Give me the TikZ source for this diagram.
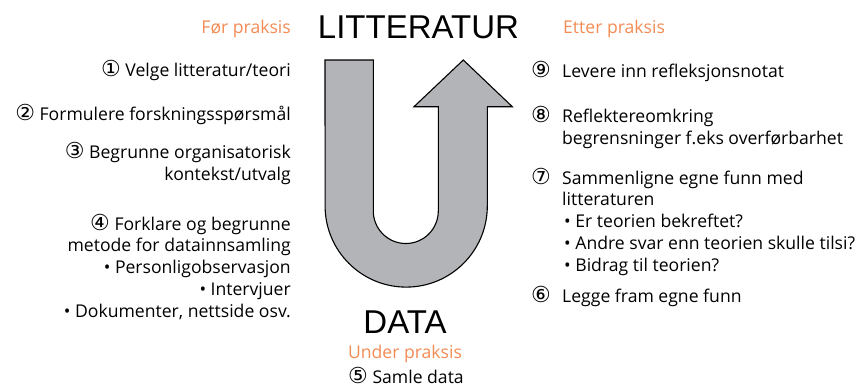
\documentclass[tikz,border=0pt]{standalone}
\usepackage{fontspec}
\setmainfont{Open Sans}
\newfontfamily\titlefont{Liberation Sans}
\newfontfamily\circfont[Scale=1.25]{DejaVu Sans}
\definecolor{praksis}{RGB}{243,139,84}
\definecolor{ugray}{RGB}{178,180,183}
\newcommand{\cnum}[1]{{\circfont #1}}
\newcommand{\rnum}[1]{\makebox[31pt][l]{\circfont #1}}
\newcommand{\rind}{\hspace*{31pt}}
\begin{document}
\begin{tikzpicture}[x=1pt,y=-1pt,
  body/.style={font=\fontsize{17.6}{21.7}\selectfont, inner sep=0pt},
  lefttxt/.style={body, anchor=base east, align=right},
  righttxt/.style={body, anchor=base west, align=left},
  phase/.style={body, text=praksis},
  title/.style={font=\titlefont\fontsize{33}{36}\selectfont, inner sep=0pt, anchor=base},
  uarrow/.style={fill=ugray, draw=black, line width=1.1pt, line join=miter}]
\useasboundingbox (0,0) rectangle (864,389);

\draw[uarrow] (325,60) -- (373.3,60) -- (373.3,211)
  arc[start angle=180,end angle=0,radius=32.5]
  -- (438.3,106.7) -- (414,106.7) -- (463.3,60) -- (512.3,106.7) -- (487.3,106.7)
  -- (487.3,206) arc[start angle=0,end angle=180,radius=81.1] -- cycle;

\node[title] (lit) at (418.5,38.3) {LITTERATUR};
\node[title] (data) at (405,333) {DATA};
\node[phase, anchor=base east] (foer) at (291,33) {Før praksis};
\node[phase, anchor=base west] (etter) at (563,33) {Etter praksis};
\node[phase, anchor=base] (under) at (405,358) {Under praksis};
\node[body, anchor=base] (s5) at (406,383) {\cnum{⑤} Samle data};

% multi-line nodes: anchored at the baseline of their last line
\node[lefttxt] (s1) at (291,76) {\cnum{①} Velge litteratur/teori};
\node[lefttxt] (s2) at (291,120) {\cnum{②} Formulere forskningsspørsmål};
\node[lefttxt] (s3) at (291,180) {\cnum{③} Begrunne organisatorisk\\kontekst/utvalg};
\node[lefttxt] (s4) at (291,317) {\cnum{④} Forklare og begrunne\\metode for datainnsamling\\• Personligobservasjon\\• Intervjuer\\• Dokumenter, nettside osv.};

\node[righttxt] (s9) at (531,77) {\rnum{⑨}Levere inn refleksjonsnotat};
\node[righttxt] (s8) at (531,144) {\rnum{⑧}Reflektereomkring\\\rind begrensninger f.eks overførbarhet};
\node[righttxt] (s7) at (531,271) {\rnum{⑦}Sammenligne egne funn med\\\rind litteraturen\\\rind\hspace*{2pt}• Er teorien bekreftet?\\\rind\hspace*{2pt}• Andre svar enn teorien skulle tilsi?\\\rind\hspace*{2pt}• Bidrag til teorien?};
\node[righttxt] (s6) at (531,302) {\rnum{⑥}Legge fram egne funn};
\end{tikzpicture}
\end{document}
